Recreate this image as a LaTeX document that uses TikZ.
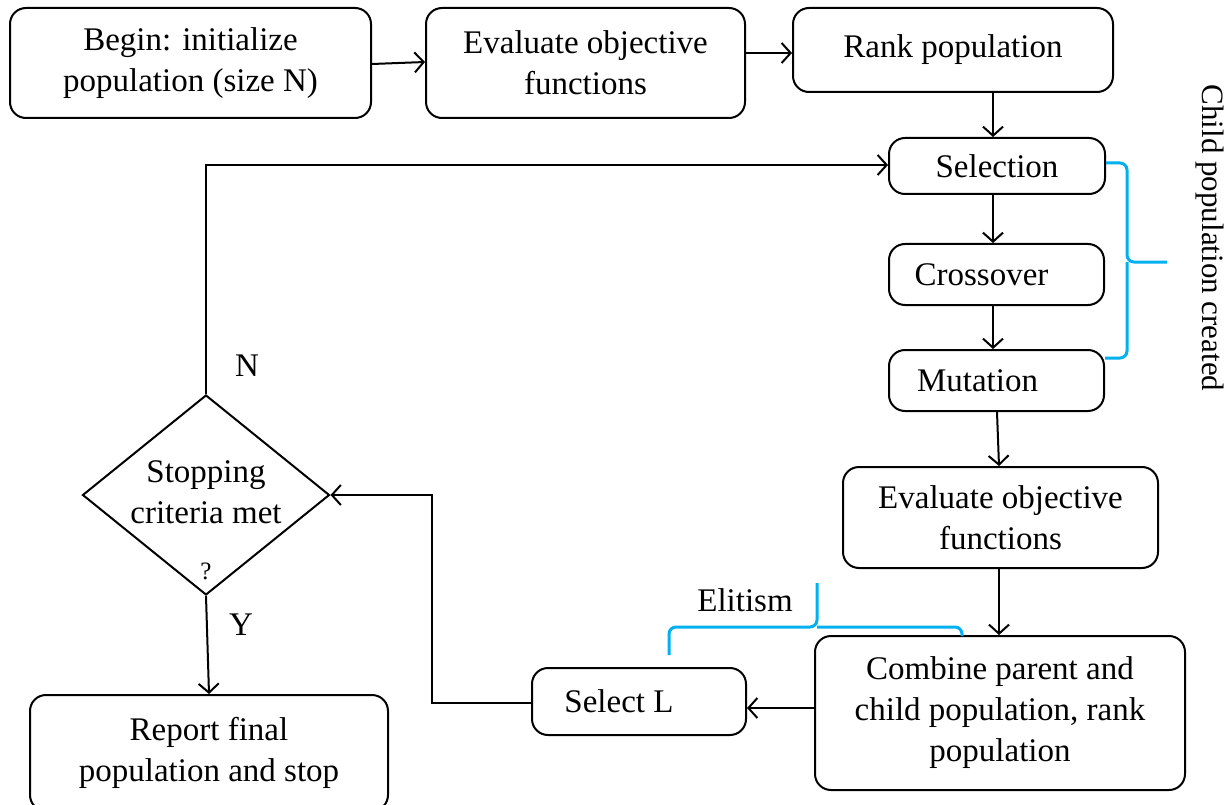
\documentclass[tikz,border=0pt]{standalone}
\usepackage{fontspec}
\setmainfont{Liberation Serif}
\usetikzlibrary{arrows.meta,shapes.geometric}
\definecolor{bracecol}{RGB}{0,176,240}
\tikzset{
  box/.style={draw=black, line width=2pt, rounded corners=16pt, align=center,
    font=\fontsize{33}{41}\selectfont, inner sep=0pt},
  decision/.style={draw=black, line width=2pt, diamond, aspect=1.24, inner sep=0pt,
    minimum width=247pt, minimum height=200pt},
  flow/.style={line width=2pt, -{Straight Barb[length=9pt,width=20pt,line width=2pt]}},
  lbl/.style={font=\fontsize{33}{41}\selectfont, inner sep=0pt},
  brace/.style={draw=bracecol, line width=3pt, rounded corners=7pt}
}
\begin{document}
\begin{tikzpicture}[x=1pt,y=-1pt]
\useasboundingbox (0,0) rectangle (1229,805);
\fill[white] (0,0) rectangle (1229,805);

% process boxes
\node[box, minimum width=361pt, minimum height=110pt] (init) at (190.5,63) {\raisebox{-4pt}{\begin{tabular}{@{}c@{}}Begin: initialize\\population (size N)\end{tabular}}};
\node[box, minimum width=319pt, minimum height=110pt] (eval1) at (585.5,63) {Evaluate objective\\functions};
\node[box, minimum width=320pt, minimum height=84pt] (rank) at (953,50) {\raisebox{8pt}{Rank population}};
\node[box, minimum width=216pt, minimum height=56pt] (sel) at (997,166) {\raisebox{-4pt}{Selection}};
\node[box, minimum width=215pt, minimum height=61pt] (cross) at (996.5,274.5) {\hspace*{-30pt}Crossover};
\node[box, minimum width=215pt, minimum height=61pt] (mut) at (996.5,380.5) {\hspace*{-38pt}Mutation};
\node[box, minimum width=315pt, minimum height=101pt] (eval2) at (1000.5,517.5) {Evaluate objective\\functions};
\node[box, minimum width=370pt, minimum height=154pt] (comb) at (1000,713) {Combine parent and\\child population, rank\\population};
\node[box, minimum width=214pt, minimum height=67pt] (selL) at (639,701.5) {\hspace*{-40pt}Select L};
\node[box, minimum width=358pt, minimum height=116pt] (report) at (209,753) {Report final\\population and stop};

% decision
\node[decision] (stop) at (206,495) {};
\node[lbl, align=center] (stoptxt) at (206,492) {Stopping\\criteria met};
\node[lbl, font=\fontsize{25}{28}\selectfont] (q) at (206,571) {?};

% connector corners
\coordinate (lup) at (206,165);
\coordinate (lret) at (432,703);
\coordinate (lret2) at (432,495);

% main flow
\draw[flow] (init.east |- 0,64) -- (eval1.west |- 0,62);
\draw[flow] (eval1.east |- 0,53) -- (rank.west |- 0,53);
\draw[flow] (rank.south -| 993,0) -- (sel.north -| 993,0);
\draw[flow] (sel.south -| 993,0) -- (cross.north -| 993,0);
\draw[flow] (cross.south -| 993,0) -- (mut.north -| 993,0);
\draw[flow] (mut.south -| 997,0) -- (eval2.north -| 999,0);
\draw[flow] (eval2.south -| 999,0) -- (comb.north -| 999,0);
\draw[flow] (comb.west |- 0,708) -- (selL.east |- 0,708);
\draw[flow] (selL.west |- 0,703) -- (lret) -- (lret2) -- (stop.east);
\draw[flow] (stop.north) -- (lup) -- (sel.west |- 0,165);
\draw[flow] (stop.south) -- (report.north -| 209,0);

% branch labels
\node[lbl] (nlab) at (247,366) {N};
\node[lbl] (ylab) at (241,625) {Y};

% braces
\draw[brace] (sel.east |- 0,163) -- (1127,163) -- (1127,262) -- (1167,262);
\draw[brace] (1127,262) -- (1127,358) -- (mut.east |- 0,358);
\draw[brace] (669,655) -- (669,627) -- (817,627) -- (817,583);
\draw[brace] (817,627) -- (962,627) -- (962,636);

\node[lbl] (elit) at (745,600) {Elitism};
\node[lbl, rotate=-90, font=\fontsize{31}{41}\selectfont] (child) at (1210,238) {Child population created};
\end{tikzpicture}
\end{document}
